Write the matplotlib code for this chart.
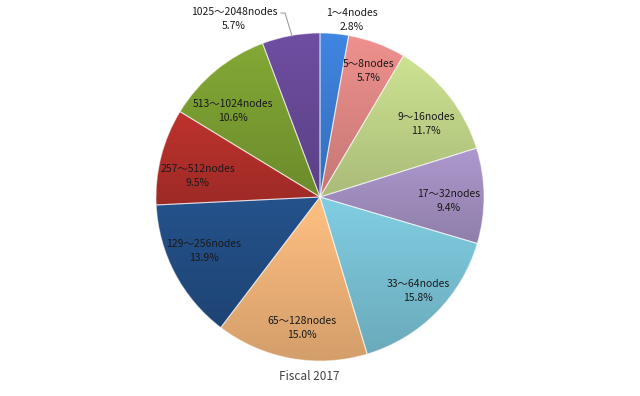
import numpy as np
import matplotlib.pyplot as plt
from matplotlib.colors import to_rgb

plt.rcParams['font.family'] = ['Noto Sans CJK JP', 'DejaVu Sans']

# Datos
categorias = ['1～4nodes', '5～8nodes', '9～16nodes', '17～32nodes', '33～64nodes',
              '65～128nodes', '129～256nodes', '257～512nodes', '513～1024nodes',
              '1025～2048nodes']
porcentajes = [2.8, 5.7, 11.7, 9.4, 15.8, 15.0, 13.9, 9.5, 10.6, 5.7]
colores = ['#3d80d8', '#e58b88', '#c5da8c', '#a793c6', '#7cc6da',
           '#f6b87c', '#234f86', '#b7312c', '#7ea233', '#6a4b9b']
titulo = 'Fiscal 2017'

# posiciones de las etiquetas (px desde arriba-izquierda)
pos_etiquetas = [(352, 20), (369, 71), (426, 124), (449, 201), (418, 291),
                 (302, 328), (204, 251), (198, 176), (233, 111), (234, 19)]

H = 396
fig = plt.figure(figsize=(6.4, 3.96), dpi=100)
ax = fig.add_axes([0, 0, 1, 1])

cx, cy, r = 320, H - 197, 164
wedges, _ = ax.pie(porcentajes, colors=colores, startangle=90, counterclock=False,
                   center=(cx, cy), radius=r,
                   wedgeprops=dict(edgecolor=(1, 1, 1, 0.5), linewidth=0.8))

# degradado vertical en cada porción (más claro arriba, más oscuro abajo)
for w, c in zip(wedges, colores):
    base = np.array(to_rgb(c))
    t = np.linspace(1.0, 0.0, 64)[:, None]
    grad = np.clip(base[None, :] * (0.86 + 0.18 * t), 0, 1)[:, None, :]
    ext = w.get_path().get_extents(w.get_patch_transform())
    im = ax.imshow(grad, extent=(ext.x0, ext.x1, ext.y0, ext.y1), aspect='auto',
                   zorder=1.5)
    im.set_clip_path(w)
    w.set_facecolor('none')
    w.set_zorder(2)

# línea guía de la etiqueta exterior
ax.plot([281, 285, 292], [H - 13, H - 13, H - 36], color='#a0a0a0', lw=0.8, zorder=3)

for cat, p, (x, y) in zip(categorias, porcentajes, pos_etiquetas):
    ax.text(x, H - y, f'{cat}\n{p:.1f}%', ha='center', va='center', fontsize=7.5,
            color='#1a1a1a', linespacing=1.4, zorder=4)

ax.text(309, H - 377, titulo, ha='center', va='center', fontsize=8.5, color='#404040')

ax.set_xlim(0, 640)
ax.set_ylim(0, H)
ax.set_aspect('auto')
ax.axis('off')

fig.savefig('out.png', dpi=100)
